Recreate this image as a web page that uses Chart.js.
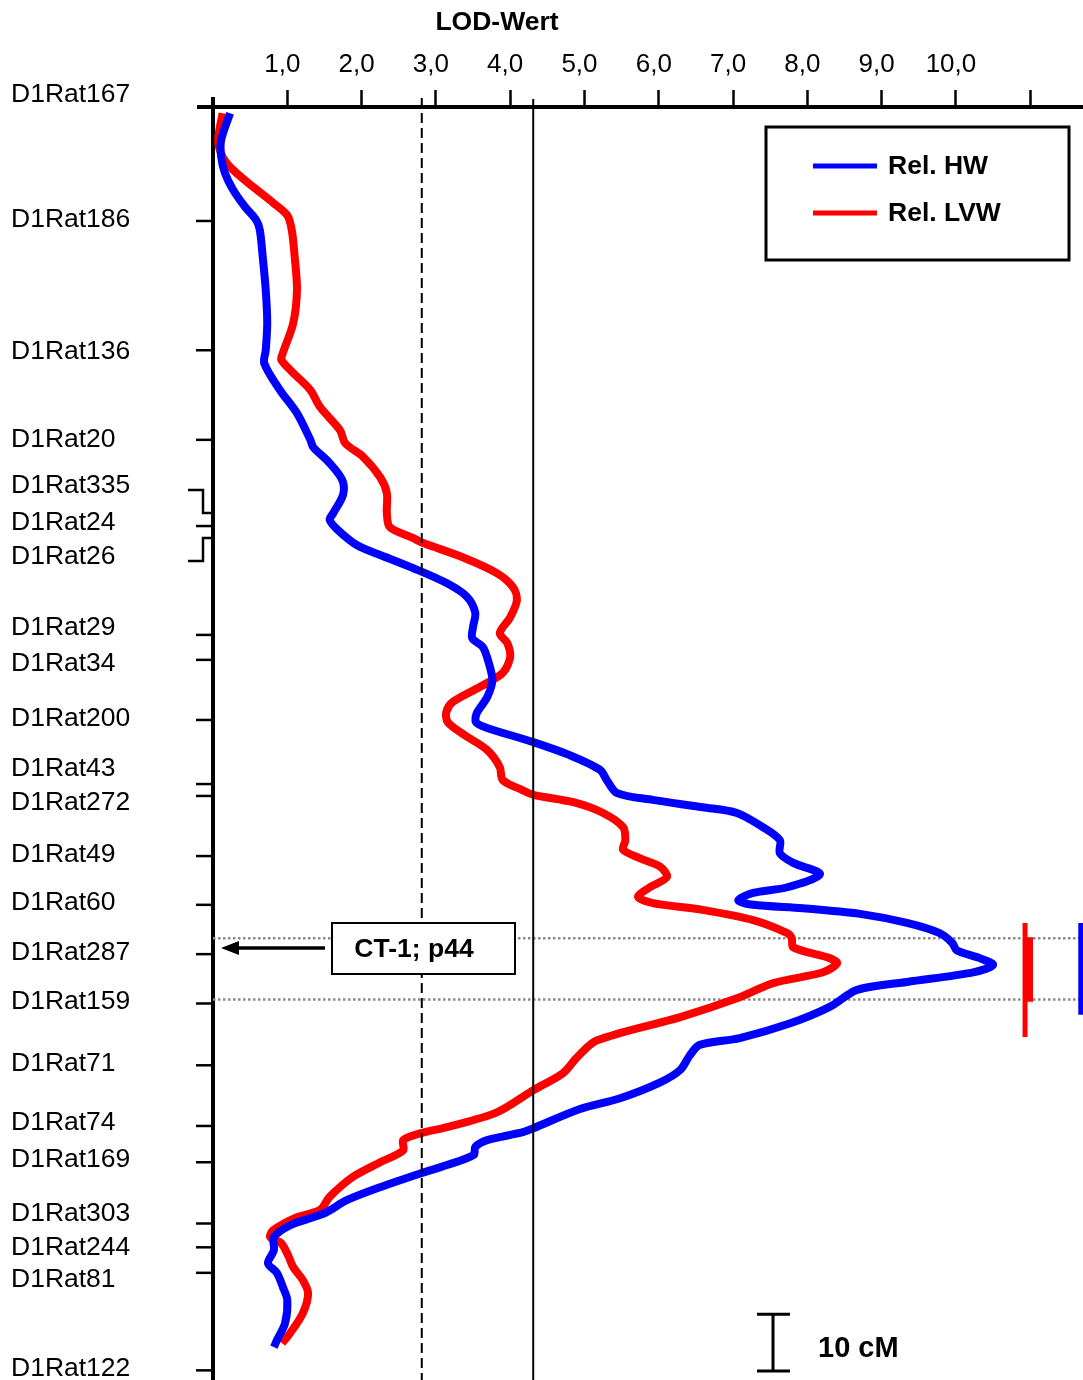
<!DOCTYPE html>
<html>
<head>
<meta charset="utf-8">
<script src="https://cdn.jsdelivr.net/npm/chart.js@4.4.0/dist/chart.umd.min.js"></script>
<style>
  body { margin: 0; background: #fff; }
  canvas { display: block; }
</style>
</head>
<body>
<canvas id="lodChart" width="1083" height="1380"></canvas>
<script>
// LOD axis ticks (top)
const lodTicks = [1, 2, 3, 4, 5, 6, 7, 8, 9, 10, 11];
const lodTickLabels = ['1,0', '2,0', '3,0', '4,0', '5,0', '6,0', '7,0', '8,0', '9,0', '10,0', ''];

// thresholds
const suggestiveLOD = 2.81;
const significantLOD = 4.31;

// markers along the chromosome (cM from top)
const markerNames = ['D1Rat167', 'D1Rat186', 'D1Rat136', 'D1Rat20', 'D1Rat335', 'D1Rat24', 'D1Rat26',
  'D1Rat29', 'D1Rat34', 'D1Rat200', 'D1Rat43', 'D1Rat272', 'D1Rat49', 'D1Rat60', 'D1Rat287',
  'D1Rat159', 'D1Rat71', 'D1Rat74', 'D1Rat169', 'D1Rat303', 'D1Rat244', 'D1Rat81', 'D1Rat122'];
const markerCM = [0, 20.1, 42.9, 58.7, 71.6, 73.9, 76.0, 93.1, 97.5, 108.1, 119.4, 121.5, 132.1,
  140.7, 149.4, 158.1, 169.0, 179.7, 186.1, 196.9, 201.1, 205.6, 222.8];
// label offset from its tick, px
const labelShift = [-12, -1, 1, 0, -27, -3, 19, -7, 4, -1, -15, 7, -1, -2, -1, -2, -2, -3, -3, -10, 0, 7, -2];
const bracketed = ['D1Rat335', 'D1Rat26'];

// Rel. HW profile
const hwCM = [1.1, 5.8, 8.8, 11.6, 14.6, 17.6, 19.9, 21.7, 26.5, 32.3,
  38.1, 42.9, 45.2, 49.9, 54.0, 58.7, 60.0, 62.8, 65.8, 68.4,
  71.6, 72.8, 74.6, 77.3, 79.0, 81.3, 84.0, 86.4, 89.2, 91.7,
  93.7, 95.2, 97.5, 101.1, 104.1, 106.9, 108.5, 109.5, 112.0, 114.3,
  116.9, 118.7, 121.0, 122.2, 123.5, 124.5, 127.0, 129.3, 131.6, 133.3,
  135.3, 137.6, 138.6, 139.9, 140.7, 141.3, 142.3, 143.9, 145.7, 147.4,
  148.7, 150.1, 151.3, 152.6, 154.3, 155.7, 158.7, 161.6, 164.2, 165.4,
  167.2, 169.8, 172.0, 174.8, 176.7, 180.1, 180.8, 182.2, 183.4, 184.8,
  186.6, 188.0, 190.5, 192.8, 194.9, 195.8, 197.2, 199.3, 201.6, 203.9,
  205.6, 208.1, 210.4, 214.5, 217.5, 218.7];
const hwLOD = [0.23, 0.11, 0.11, 0.16, 0.27, 0.43, 0.58, 0.63, 0.67, 0.71,
  0.73, 0.71, 0.69, 0.90, 1.13, 1.31, 1.35, 1.57, 1.74, 1.75,
  1.62, 1.57, 1.68, 1.94, 2.25, 2.69, 3.15, 3.42, 3.53, 3.50,
  3.49, 3.63, 3.70, 3.76, 3.69, 3.55, 3.54, 3.69, 4.31, 4.80,
  5.21, 5.30, 5.44, 5.92, 6.59, 7.05, 7.40, 7.63, 7.63, 7.81,
  8.17, 7.73, 7.27, 7.07, 7.27, 7.94, 8.71, 9.34, 9.78, 9.95,
  10.01, 10.32, 10.50, 10.23, 9.34, 8.67, 8.30, 7.77, 7.09, 6.55,
  6.42, 6.29, 6.02, 5.48, 4.94, 4.31, 4.17, 3.69, 3.53, 3.51,
  3.15, 2.81, 2.25, 1.80, 1.53, 1.35, 1.04, 0.82, 0.82, 0.74,
  0.86, 0.94, 1.00, 0.97, 0.86, 0.82];

// Rel. LVW profile
const lvwCM = [1.1, 5.8, 8.8, 11.1, 14.1, 16.9, 19.1, 21.7, 26.5, 32.3,
  38.1, 43.4, 44.6, 46.9, 49.9, 52.9, 57.0, 59.3, 61.7, 65.3,
  68.1, 71.6, 74.1, 76.0, 76.9, 79.4, 82.2, 84.7, 87.0, 90.0,
  92.8, 94.5, 97.0, 99.8, 102.3, 104.9, 106.7, 108.5, 110.8, 113.4,
  116.4, 118.7, 120.5, 121.3, 122.6, 124.5, 127.0, 129.3, 131.0, 132.5,
  134.0, 135.8, 137.6, 139.3, 140.4, 141.6, 143.4, 145.7, 146.6, 148.2,
  150.1, 151.0, 152.6, 154.5, 157.0, 160.5, 164.6, 167.6, 170.4, 173.4,
  177.3, 179.9, 181.0, 182.2, 184.0, 186.1, 188.7, 192.2, 194.5, 195.8,
  198.1, 199.3, 200.4, 202.5, 204.6, 206.9, 209.2, 212.7, 216.2, 218.0];
const lvwLOD = [0.13, 0.07, 0.13, 0.27, 0.54, 0.81, 1.00, 1.06, 1.10, 1.13,
  1.08, 0.94, 0.92, 1.08, 1.31, 1.44, 1.71, 1.78, 2.02, 2.25,
  2.34, 2.34, 2.38, 2.69, 2.83, 3.36, 3.82, 4.04, 4.09, 4.00,
  3.86, 3.96, 4.00, 3.90, 3.59, 3.23, 3.14, 3.16, 3.39, 3.69,
  3.86, 3.90, 4.17, 4.31, 4.85, 5.25, 5.52, 5.55, 5.52, 5.75,
  6.02, 6.11, 5.88, 5.72, 5.92, 6.59, 7.27, 7.73, 7.79, 7.81,
  8.30, 8.40, 8.21, 7.54, 7.09, 6.29, 5.17, 4.90, 4.71, 4.31,
  3.82, 3.15, 2.79, 2.56, 2.56, 2.25, 1.88, 1.57, 1.44, 1.13,
  0.81, 0.77, 0.92, 1.01, 1.08, 1.21, 1.28, 1.21, 1.04, 0.93];

// confidence intervals (cM)
const ciBounds = [146.6, 157.4];
const lvwCI = [143.9, 164.0];
const lvwCIcore = [146.4, 157.8];
const hwCI = [143.9, 160.1];

const FONT = "'Liberation Sans', Arial, sans-serif";
const xy = (xs, ys) => xs.map((v, i) => ({ x: v, y: ys[i] }));
const bar = (x, r) => [{ x: x, y: r[0] }, { x: x, y: r[1] }];

const overlay = {
  id: 'overlay',
  beforeDatasetsDraw(chart) {
    const { ctx, chartArea, scales: { y } } = chart;
    ctx.save();
    ctx.strokeStyle = '#8a8a8a';
    ctx.lineWidth = 2.5;
    ctx.setLineDash([2.5, 2.5]);
    ciBounds.forEach(v => {
      const py = y.getPixelForValue(v);
      ctx.beginPath();
      ctx.moveTo(chartArea.left, py);
      ctx.lineTo(chartArea.right, py);
      ctx.stroke();
    });
    ctx.restore();
  },
  afterDraw(chart) {
    const { ctx, chartArea, scales: { x, y } } = chart;
    const left = chartArea.left, top = chartArea.top;
    ctx.save();
    ctx.strokeStyle = '#000';
    ctx.fillStyle = '#000';

    // axis overhangs
    ctx.lineWidth = 4;
    ctx.beginPath();
    ctx.moveTo(197, top); ctx.lineTo(left, top);
    ctx.moveTo(left, top); ctx.lineTo(left, 97);
    ctx.stroke();

    // threshold lines
    ctx.lineWidth = 2;
    ctx.setLineDash([10, 5]);
    let px = x.getPixelForValue(suggestiveLOD);
    ctx.beginPath(); ctx.moveTo(px, 98); ctx.lineTo(px, chartArea.bottom); ctx.stroke();
    ctx.setLineDash([]);
    px = x.getPixelForValue(significantLOD);
    ctx.beginPath(); ctx.moveTo(px, 99); ctx.lineTo(px, chartArea.bottom); ctx.stroke();

    // marker ticks and names
    ctx.font = '26.5px ' + FONT;
    ctx.textAlign = 'left';
    ctx.textBaseline = 'middle';
    ctx.lineWidth = 2.5;
    markerNames.forEach((name, i) => {
      const ty = y.getPixelForValue(markerCM[i]);
      const ly = ty + labelShift[i];
      ctx.fillText(name, 11, ly);
      if (markerCM[i] === 0) return;
      ctx.beginPath();
      if (bracketed.includes(name)) {
        const by = ly + 4;
        ctx.moveTo(left, ty); ctx.lineTo(203, ty); ctx.lineTo(203, by); ctx.lineTo(188, by);
      } else {
        ctx.moveTo(196, ty); ctx.lineTo(left, ty);
      }
      ctx.stroke();
    });

    // title
    ctx.font = 'bold 26.5px ' + FONT;
    ctx.textAlign = 'center';
    ctx.fillText('LOD-Wert', 497, 23);

    // legend
    ctx.lineWidth = 3;
    ctx.strokeRect(766, 127, 303, 133);
    const legend = [['Rel. HW', '#0000ff', 166], ['Rel. LVW', '#ff0000', 213]];
    legend.forEach(([txt, col, ly]) => {
      ctx.strokeStyle = col;
      ctx.lineWidth = 5;
      ctx.beginPath(); ctx.moveTo(813, ly); ctx.lineTo(877, ly); ctx.stroke();
      ctx.fillStyle = '#000';
      ctx.textAlign = 'left';
      ctx.fillText(txt, 888, ly + 1);
    });

    // QTL annotation
    ctx.strokeStyle = '#000';
    ctx.fillStyle = '#fff';
    ctx.fillRect(332, 923, 183, 51);
    ctx.lineWidth = 2;
    ctx.strokeRect(332, 923, 183, 51);
    ctx.fillStyle = '#000';
    ctx.textAlign = 'center';
    ctx.fillText('CT-1; p44', 414, 950);
    ctx.lineWidth = 3.5;
    ctx.beginPath(); ctx.moveTo(325, 948); ctx.lineTo(236, 948); ctx.stroke();
    ctx.beginPath(); ctx.moveTo(221, 948); ctx.lineTo(239, 941); ctx.lineTo(239, 955); ctx.closePath(); ctx.fill();

    // 10 cM scale bar
    const y0 = y.getPixelForValue(212.9), y1 = y.getPixelForValue(222.9);
    ctx.lineWidth = 3;
    ctx.beginPath();
    ctx.moveTo(773, y0); ctx.lineTo(773, y1);
    ctx.moveTo(757, y0); ctx.lineTo(790, y0);
    ctx.moveTo(757, y1); ctx.lineTo(790, y1);
    ctx.stroke();
    ctx.font = 'bold 29px ' + FONT;
    ctx.textAlign = 'left';
    ctx.fillText('10 cM', 818, 1349);
    ctx.restore();
  }
};

const ctx = document.getElementById('lodChart').getContext('2d');
new Chart(ctx, {
  type: 'line',
  data: {
    datasets: [
      { label: 'Rel. HW', data: xy(hwLOD, hwCM), borderColor: '#0000ff', borderWidth: 8, pointRadius: 0, tension: 0.3 },
      { label: 'Rel. LVW', data: xy(lvwLOD, lvwCM), borderColor: '#ff0000', borderWidth: 8, pointRadius: 0, tension: 0.3 },
      { label: 'CI LVW', data: bar(10.93, lvwCI), borderColor: '#ff0000', borderWidth: 5, pointRadius: 0, borderCapStyle: 'butt', clip: false },
      { label: 'CI LVW core', data: bar(10.99, lvwCIcore), borderColor: '#ff0000', borderWidth: 7, pointRadius: 0, borderCapStyle: 'butt', clip: false },
      { label: 'CI HW', data: bar(11.68, hwCI), borderColor: '#0000ff', borderWidth: 5, pointRadius: 0, borderCapStyle: 'butt', clip: false }
    ]
  },
  options: {
    responsive: false,
    animation: false,
    layout: { padding: 0 },
    plugins: {
      legend: { display: false },
      tooltip: { enabled: false }
    },
    scales: {
      x: {
        type: 'linear',
        position: 'top',
        min: 0,
        max: 11.71,
        afterBuildTicks: s => { s.ticks = lodTicks.map(v => ({ value: v })); },
        afterFit: s => { s.height = 107; },
        grid: { drawOnChartArea: false, drawTicks: true, tickLength: 17, tickWidth: 2.5, tickColor: '#000' },
        border: { display: true, color: '#000', width: 4 },
        ticks: { padding: 10, labelOffset: -5, color: '#000', font: { family: FONT, size: 26 }, maxRotation: 0, callback: (v, i) => lodTickLabels[i] }
      },
      y: {
        type: 'linear',
        reverse: true,
        min: 0,
        max: 224.5,
        afterFit: s => { s.width = 213; },
        grid: { display: false },
        border: { display: true, color: '#000', width: 4 },
        ticks: { display: false }
      }
    }
  },
  plugins: [overlay]
});
</script>
</body>
</html>
